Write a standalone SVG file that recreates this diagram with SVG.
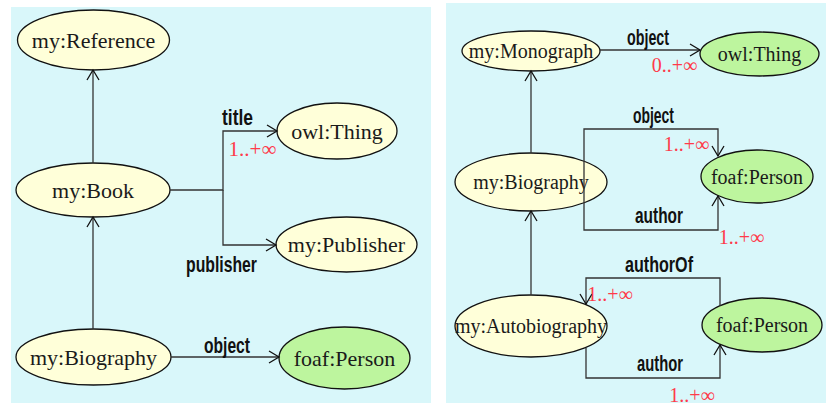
<svg xmlns="http://www.w3.org/2000/svg" width="826" height="403" viewBox="0 0 826 403">
  <style>
    .panel { fill: #d9f7fa; }
    .node-y { fill: #ffffd9; stroke: #111; stroke-width: 1.3; }
    .node-g { fill: #bdf59e; stroke: #111; stroke-width: 1.3; }
    .name { font-family: "Liberation Serif", "Times New Roman", serif; fill: #1a1a1a; text-anchor: middle; }
    .big { font-size: 22px; }
    .small { font-size: 20px; }
    .edge { fill: none; stroke: #333; stroke-width: 1.3; }
    .prop { font-family: "Liberation Sans Narrow", "Liberation Sans", Arial, sans-serif; font-weight: bold; font-size: 22px; fill: #111; text-anchor: middle; }
    .card { font-family: "Liberation Serif", "Times New Roman", serif; fill: #ff3a4a; text-anchor: middle; }
  </style>
  <defs>
    <marker id="open" markerUnits="userSpaceOnUse" markerWidth="14" markerHeight="14" refX="11" refY="6" orient="auto" overflow="visible">
      <path d="M1,0 L11,6 L1,12" fill="none" stroke="#111" stroke-width="1.3"/>
    </marker>
  </defs>

  <rect width="826" height="403" fill="#ffffff"/>
  <rect class="panel" x="11" y="7" width="420" height="396"/>
  <rect class="panel" x="446" y="3" width="380" height="400"/>

  <!-- left: class hierarchy with title / publisher / object properties -->
  <g id="l-reference"><ellipse class="node-y" cx="93.5" cy="40" rx="76" ry="30"/><text class="name big" x="93.5" y="48">my:Reference</text></g>
  <g id="l-book"><ellipse class="node-y" cx="93" cy="190" rx="77" ry="27"/><text class="name big" x="93" y="198">my:Book</text></g>
  <g id="l-thing"><ellipse class="node-y" cx="337" cy="131" rx="60" ry="28"/><text class="name big" x="337" y="139">owl:Thing</text></g>
  <g id="l-publisher"><ellipse class="node-y" cx="346.5" cy="244.5" rx="70.5" ry="27.5"/><text class="name big" x="346.5" y="252">my:Publisher</text></g>
  <g id="l-biography"><ellipse class="node-y" cx="93.5" cy="357" rx="77.5" ry="28"/><text class="name big" x="93.5" y="365">my:Biography</text></g>
  <g id="l-person"><ellipse class="node-g" cx="344.5" cy="358" rx="65.5" ry="31"/><text class="name big" x="344.5" y="366">foaf:Person</text></g>

  <!-- right: monograph / biography / autobiography -->
  <g id="r-monograph"><ellipse class="node-y" cx="531" cy="51" rx="69" ry="20"/><text class="name small" x="531" y="58">my:Monograph</text></g>
  <g id="r-thing"><ellipse class="node-g" cx="759.5" cy="54" rx="59.5" ry="22"/><text class="name small" x="759.5" y="61">owl:Thing</text></g>
  <g id="r-biography"><ellipse class="node-y" cx="531" cy="182" rx="76" ry="29"/><text class="name small" x="531" y="189">my:Biography</text></g>
  <g id="r-person1"><ellipse class="node-g" cx="757" cy="176.5" rx="56" ry="26.5"/><text class="name small" x="757" y="184">foaf:Person</text></g>
  <g id="r-autobiography"><ellipse class="node-y" cx="531" cy="326" rx="76" ry="31"/><text class="name small" x="531" y="333">my:Autobiography</text></g>
  <g id="r-person2"><ellipse class="node-g" cx="762" cy="325" rx="60" ry="27"/><text class="name small" x="762" y="332">foaf:Person</text></g>

  <g id="connectors">
    <path class="edge" d="M93,163 V70" marker-end="url(#open)"/>
    <path class="edge" d="M93,329 V217" marker-end="url(#open)"/>
    <path class="edge" d="M170,190 H223 V131 H277" marker-end="url(#open)"/>
    <path class="edge" d="M223,190 V245 H276" marker-end="url(#open)"/>
    <path class="edge" d="M171,357 H279" marker-end="url(#open)"/>

    <path class="edge" d="M600,50 H700" marker-end="url(#open)"/>
    <path class="edge" d="M531,153 V71" marker-end="url(#open)"/>
    <path class="edge" d="M531,295 V211" marker-end="url(#open)"/>
    <path class="edge" d="M584,182 V129 H718 V156" marker-end="url(#open)"/>
    <path class="edge" d="M584,182 V230 H718 V196" marker-end="url(#open)"/>
    <path class="edge" d="M720,306 V278 H586 V304" marker-end="url(#open)"/>
    <path class="edge" d="M586,348 V378 H720 V345" marker-end="url(#open)"/>

    <text class="prop" x="237.5" y="125" textLength="31" lengthAdjust="spacingAndGlyphs">title</text>
    <text class="card" x="252.5" y="156" font-size="21">1..+∞</text>
    <text class="prop" x="221.5" y="272" textLength="71" lengthAdjust="spacingAndGlyphs">publisher</text>
    <text class="prop" x="227" y="353" textLength="46" lengthAdjust="spacingAndGlyphs">object</text>

    <text class="prop" x="648" y="45" textLength="42" lengthAdjust="spacingAndGlyphs">object</text>
    <text class="card" x="674.5" y="72" font-size="20">0..+∞</text>
    <text class="prop" x="653.5" y="123" textLength="41" lengthAdjust="spacingAndGlyphs">object</text>
    <text class="card" x="686.5" y="151" font-size="20">1..+∞</text>
    <text class="prop" x="659" y="223" textLength="48" lengthAdjust="spacingAndGlyphs">author</text>
    <text class="card" x="741.5" y="244" font-size="20">1..+∞</text>
    <text class="prop" x="659" y="272" textLength="68" lengthAdjust="spacingAndGlyphs">authorOf</text>
    <text class="card" x="610" y="301" font-size="20">1..+∞</text>
    <text class="prop" x="660" y="371" textLength="46" lengthAdjust="spacingAndGlyphs">author</text>
    <text class="card" x="692" y="402" font-size="20">1..+∞</text>
  </g>
</svg>
